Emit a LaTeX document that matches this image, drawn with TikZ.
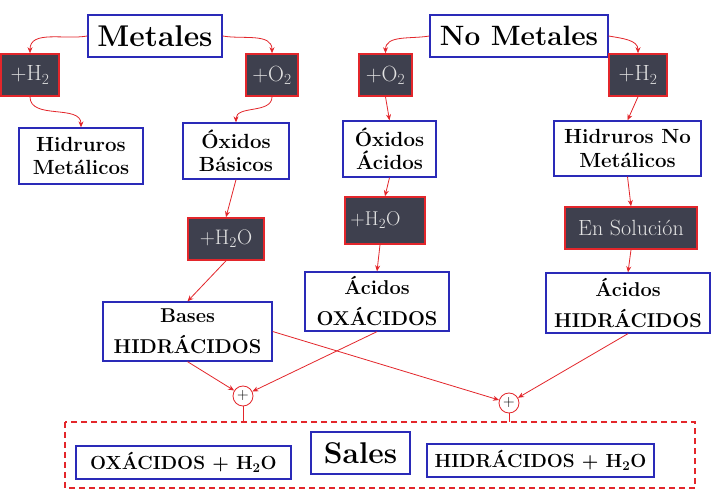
\documentclass[tikz,border=0pt]{standalone}
\usepackage{fontspec}
\usepackage{tikz}
\usetikzlibrary{arrows.meta}

\definecolor{azulbox}{HTML}{2A2AB8}
\definecolor{rojo}{HTML}{E3262B}
\definecolor{oscuro}{HTML}{3E404E}
\definecolor{gristxt}{HTML}{E2E2E2}

\tikzset{
    caja/.style={draw=azulbox, line width=1.3pt, fill=white, align=center, inner sep=0pt},
    reac/.style={draw=rojo, line width=1.6pt, fill=oscuro, text=gristxt, inner sep=0pt,
        font=\fontsize{22}{24}\selectfont},
    flecha/.style={draw=rojo, line width=0.8pt, -{Stealth[length=6pt, width=5pt]}},
    mas/.style={circle, draw=rojo, line width=0.8pt, fill=white, minimum size=20pt, inner sep=0pt,
        font=\fontsize{16}{16}\selectfont}
}

\begin{document}
\begin{tikzpicture}[x=1pt, y=-1pt]
    \useasboundingbox (0, 0) rectangle (724, 497);
    \fill[white] (0, 0) rectangle (724, 497);

    % grupos
    \node[caja, minimum width=134pt, minimum height=42pt, font=\fontsize{30}{32}\selectfont\bfseries] (met) at (155, 36) {Metales};
    \node[caja, minimum width=178pt, minimum height=42pt, font=\fontsize{28}{30}\selectfont\bfseries] (nomet) at (519, 36) {No Metales};

    \node[reac, minimum width=58pt, minimum height=42pt] (hA) at (30, 75) {+H\textsubscript{2}};
    \node[reac, minimum width=52pt, minimum height=42pt] (oA) at (272, 75) {+O\textsubscript{2}};
    \node[reac, minimum width=53pt, minimum height=42pt] (oB) at (385.5, 75) {+O\textsubscript{2}};
    \node[reac, minimum width=58pt, minimum height=42pt] (hB) at (638, 75) {+H\textsubscript{2}};

    \node[caja, minimum width=124pt, minimum height=56pt, font=\fontsize{20.5}{23.5}\selectfont\bfseries] (hidmet) at (81, 156) {Hidruros\\Metálicos};
    \node[caja, minimum width=106pt, minimum height=56pt, font=\fontsize{20.5}{23.5}\selectfont\bfseries] (oxbas) at (236, 151) {Óxidos\\Básicos};
    \node[caja, minimum width=93pt, minimum height=56pt, font=\fontsize{20.5}{23.5}\selectfont\bfseries] (oxac) at (389.5, 149) {Óxidos\\Ácidos};
    \node[caja, minimum width=147pt, minimum height=55pt, font=\fontsize{20.5}{23.5}\selectfont\bfseries] (hidnomet) at (627.5, 148.5) {Hidruros No\\Metálicos};

    \node[reac, minimum width=76pt, minimum height=42pt, font=\fontsize{21}{23}\selectfont] (aguaA) at (226, 239) {+H\textsubscript{2}O};
    \node[reac, minimum width=80pt, minimum height=47pt, font=\fontsize{20}{22}\selectfont] (aguaB) at (385, 220.5) {\raisebox{4pt}{\hspace*{-19pt}+H\textsubscript{2}O}};
    \node[reac, minimum width=132pt, minimum height=42pt, font=\fontsize{22}{24}\selectfont] (sol) at (631, 228) {En Solución};

    \node[caja, minimum width=169pt, minimum height=59pt, font=\fontsize{20}{31}\selectfont\bfseries] (bases) at (187.5, 331.5) {Bases\\HIDRÁCIDOS};
    \node[caja, minimum width=144pt, minimum height=59pt, font=\fontsize{20}{31}\selectfont\bfseries] (acox) at (377, 301.5) {Ácidos\\OXÁCIDOS};
    \node[caja, minimum width=164pt, minimum height=60pt, font=\fontsize{20}{31}\selectfont\bfseries] (achid) at (628, 303) {Ácidos\\HIDRÁCIDOS};

    \node[mas] (sumA) at (243, 396) {+};
    \node[mas] (sumB) at (509, 403) {+};

    % sales
    \draw[rojo, line width=1.5pt, dash pattern=on 6pt off 4pt] (65, 422) rectangle (695, 488);
    \coordinate (borde) at (0, 422);
    \node[caja, minimum width=215pt, minimum height=33pt, font=\fontsize{19}{20}\selectfont\bfseries] (oxagua) at (183.5, 462.5) {OXÁCIDOS + H\textsubscript{2}O};
    \node[caja, minimum width=99pt, minimum height=42pt, font=\fontsize{30}{32}\selectfont\bfseries] (sales) at (360.5, 453) {Sales};
    \node[caja, minimum width=227pt, minimum height=33pt, font=\fontsize{19}{20}\selectfont\bfseries] (hidagua) at (540.5, 460.5) {HIDRÁCIDOS + H\textsubscript{2}O};

    % flechas
    \draw[flecha] (met.west) to[out=190, in=90] (hA.north);
    \draw[flecha] (met.east) to[out=-10, in=90] (oA.north);
    \draw[flecha] (nomet.west) to[out=190, in=90] (oB.north);
    \draw[flecha] (nomet.east) to[out=-10, in=90] (hB.north);
    \draw[flecha] (hA.south) to[out=-90, in=90] (hidmet.north);
    \draw[flecha] (oA.south) to[out=-90, in=90] (oxbas.north);
    \draw[flecha] (oB.south) -- (oxac.north);
    \draw[flecha] (hB.south) -- (hidnomet.north);
    \draw[flecha] (oxbas.south) -- (aguaA.north);
    \draw[flecha] (oxac.south) -- (aguaB.north);
    \draw[flecha] (hidnomet.south) -- (sol.north);
    \draw[flecha] (aguaA.south) -- (bases.north);
    \draw[flecha] ([xshift=-5pt]aguaB.south) -- (acox.north);
    \draw[flecha] (sol.south) -- (achid.north);
    \draw[flecha] (bases.south) -- (sumA);
    \draw[flecha] (acox.south) -- (sumA);
    \draw[flecha] (bases.east) -- (sumB);
    \draw[flecha] (achid.south) -- (sumB);
    \draw[rojo, line width=0.8pt] (sumA.south) -- (sumA.south |- borde);
    \draw[rojo, line width=0.8pt] (sumB.south) -- (sumB.south |- borde);
\end{tikzpicture}
\end{document}
